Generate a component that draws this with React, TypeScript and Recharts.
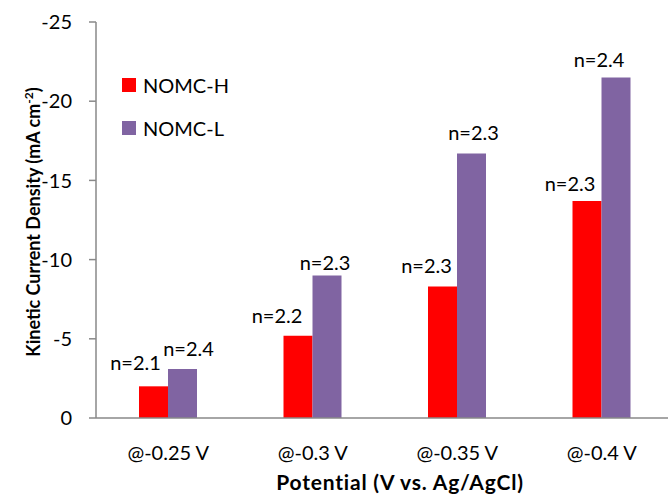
import * as React from "react";
import { BarChart, Bar, XAxis, YAxis, Legend, LabelList } from "recharts";

const categories = ["@-0.25 V", "@-0.3 V", "@-0.35 V", "@-0.4 V"];
const nomcH = [-2.0, -5.2, -8.3, -13.7];
const nomcL = [-3.1, -9.0, -16.7, -21.5];
const nH = ["n=2.1", "n=2.2", "n=2.3", "n=2.3"];
const nL = ["n=2.4", "n=2.3", "n=2.3", "n=2.4"];
const yTicks = [0, -5, -10, -15, -20, -25];

const data = categories.map((c, i) => ({
  name: c,
  H: nomcH[i],
  L: nomcL[i],
  nH: nH[i],
  nL: nL[i],
}));

// label nudges (Excel had them dragged by hand)
const OFFSETS_H = [
  [-18, -24],
  [-21, -21],
  [-16, -22],
  [-17, -18],
];
const OFFSETS_L = [
  [6, -21],
  [-2, -13],
  [2, -21],
  [-17, -18],
];

const FONT = "Lato, 'Open Sans', sans-serif";
const AXIS = "#898989";

function makeLabel(offsets: number[][]) {
  return (props: any) => {
    const { x, y, width, value, index } = props;
    const [dx, dy] = offsets[index] ?? [0, -20];
    return (
      <text
        x={x + width / 2 + dx}
        y={y + dy}
        textAnchor="middle"
        dominantBaseline="central"
        fontSize={20}
        fontFamily={FONT}
        fill="#000"
      >
        {value}
      </text>
    );
  };
}

function LegendBox(props: any) {
  const { payload } = props;
  return (
    <div style={{ fontFamily: FONT, fontSize: 20, color: "#000" }}>
      {payload.map((p: any) => (
        <div
          key={p.value}
          style={{ display: "flex", alignItems: "center", height: 43 }}
        >
          <span
            style={{
              width: 14,
              height: 14,
              background: p.color,
              display: "inline-block",
              marginRight: 7,
            }}
          />
          {p.value}
        </div>
      ))}
    </div>
  );
}

export default function App() {
  return (
    <div
      style={{
        position: "absolute",
        left: 0,
        top: 0,
        width: 668,
        height: 497,
        overflow: "hidden",
        background: "#fff",
      }}
    >
      <BarChart
        width={680}
        height={497}
        data={data}
        margin={{ top: 22, right: 6, bottom: 39, left: 36 }}
        barGap={0}
        barSize={29}
      >
        <XAxis
          dataKey="name"
          height={40}
          tickLine={false}
          axisLine={{ stroke: AXIS, strokeWidth: 1.5 }}
          tick={{ fontSize: 20, fill: "#000", fontFamily: FONT }}
          tickMargin={22}
        />
        <YAxis
          width={60}
          reversed
          domain={[-25, 0]}
          ticks={yTicks}
          interval={0}
          tickSize={7}
          tickMargin={17}
          tickLine={{ stroke: AXIS, strokeWidth: 1.5 }}
          axisLine={{ stroke: AXIS, strokeWidth: 1.5 }}
          tick={{ fontSize: 20, fill: "#000", fontFamily: FONT }}
        />
        <Legend
          layout="horizontal"
          verticalAlign="middle"
          align="center"
          content={LegendBox}
          wrapperStyle={{ left: 122, top: 63, width: 160 }}
        />
        <Bar dataKey="H" name="NOMC-H" fill="#FF0000" isAnimationActive={false}>
          <LabelList dataKey="nH" content={makeLabel(OFFSETS_H)} />
        </Bar>
        <Bar dataKey="L" name="NOMC-L" fill="#8064A2" isAnimationActive={false}>
          <LabelList dataKey="nL" content={makeLabel(OFFSETS_L)} />
        </Bar>
        <text
          x={400}
          y={490}
          textAnchor="middle"
          fontSize={21}
          fontWeight="bold"
          fontFamily={FONT}
          letterSpacing={0.8}
          fill="#000"
        >
          Potential (V vs. Ag/AgCl)
        </text>
        <text
          transform="translate(34, 222) rotate(-90)"
          textAnchor="middle"
          fontSize={18}
          fontWeight="bold"
          fontFamily={FONT}
          fill="#000"
          dy={6}
        >
          <tspan>Kinetic Current Density (mA cm</tspan>
          <tspan dy={-7} fontSize={12}>
            -2
          </tspan>
          <tspan dy={7}>)</tspan>
        </text>
      </BarChart>
    </div>
  );
}
